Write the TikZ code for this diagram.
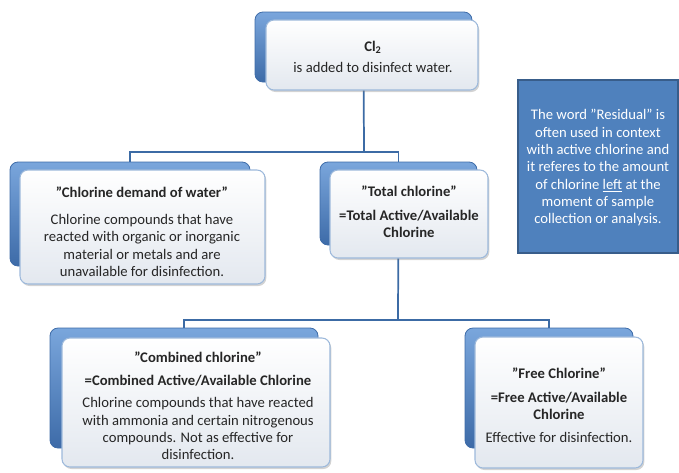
\documentclass[tikz,border=0pt]{standalone}
\usepackage{fontspec}
\setmainfont{Carlito}
\usetikzlibrary{shadows,fit,backgrounds}
\definecolor{backtop}{HTML}{7AA6DC}
\definecolor{backbot}{HTML}{3D6BA8}
\definecolor{frontbd}{HTML}{9DB9DB}
\definecolor{frontbot}{HTML}{E3E8EF}
\definecolor{linec}{HTML}{3C6BA5}
\definecolor{resfill}{HTML}{4F81BD}
\definecolor{resbd}{HTML}{385D8A}
\definecolor{txt}{HTML}{262626}
\begin{document}
\begin{tikzpicture}[x=0.75pt,y=-0.75pt,
  backbox/.style={rounded corners=6pt, top color=backtop, bottom color=backbot, draw=backbot, line width=0.6pt, inner sep=0pt},
  frontbox/.style={rounded corners=6pt, top color=white, bottom color=frontbot, draw=frontbd, line width=0.8pt, inner sep=0pt,
    drop shadow={shadow xshift=1pt, shadow yshift=-1.5pt, opacity=0.35}},
  conn/.style={draw=linec, line width=1.3pt},
  body/.style={font=\fontsize{11}{13}\selectfont, text=txt, align=center, inner sep=0pt},
  resbox/.style={fill=resfill, draw=resbd, line width=1.5pt, inner sep=0pt}
]
\useasboundingbox (0,0) rectangle (679,472);

% top
\node[backbox, fit={(255,12) (472,82)}] (topb) {};
\node[frontbox, fit={(266,20) (478,90)}] (top) {};
\node[body] (topt) at (373,57) {\textbf{Cl\textsubscript{2}}\\[3pt]is added to disinfect water.};

% chlorine demand
\node[backbox, fit={(10,162) (250,266)}] (demb) {};
\node[frontbox, fit={(20,170) (265,284)}] (dem) {};
\node[body] (demt) at (142,232) {\textbf{”Chlorine demand of water”}\\[7pt]Chlorine compounds that have\\reacted with organic or inorganic\\material or metals and are\\unavailable for disinfection.};

% total
\node[backbox, fit={(320,162) (477,245)}] (totb) {};
\node[frontbox, fit={(330,170) (488,258)}] (tot) {};
\node[body] (tott) at (409,212) {\textbf{”Total chlorine”}\\[4.5pt]\textbf{=Total Active/Available}\\\textbf{Chlorine}};

% residual
\node[resbox, fit={(518,80) (678,253)}] (res) {};
\node[body, text=white] (rest) at (598,168) {The word ”Residual” is\\often used in context\\with active chlorine and\\it referes to the amount\\of chlorine \underline{left} at the\\moment of sample\\collection or analysis.};

% combined
\node[backbox, fit={(50,328) (318,448)}] (combb) {};
\node[frontbox, fit={(62,338) (330,467)}] (comb) {};
\node[body] (combt) at (198,406) {\textbf{”Combined chlorine”}\\[4pt]\textbf{=Combined Active/Available Chlorine}\\[4pt]Chlorine compounds that have reacted\\with ammonia and certain nitrogenous\\compounds. Not as effective for\\disinfection.};

% free
\node[backbox, fit={(465,328) (633,448)}] (freeb) {};
\node[frontbox, fit={(475,337) (643,468)}] (free) {};
\node[body] (freet) at (559,405) {\textbf{”Free Chlorine”}\\[5pt]\textbf{=Free Active/Available}\\\textbf{Chlorine}\\[4pt]Effective for disinfection.};

\coordinate (j1) at (364,152);
\coordinate (j2) at (398,320);
\begin{pgfonlayer}{background}
\draw[conn] (topb.center) -- (j1) -| (demb.center);
\draw[conn] (j1) -| (totb.center);
\draw[conn] (totb.center) -- (j2);
\draw[conn] (combb.center) |- (j2) -| (freeb.center);
\end{pgfonlayer}
\end{tikzpicture}
\end{document}
